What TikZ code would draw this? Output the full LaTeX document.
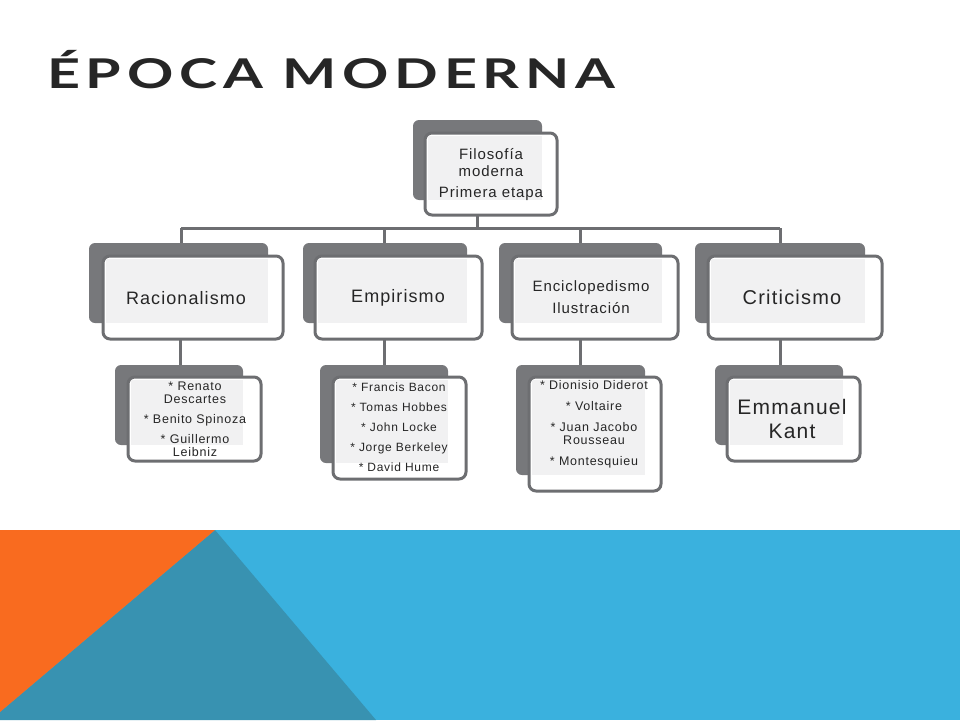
\documentclass[tikz,border=0pt]{standalone}
\usepackage{fontspec}
\setmainfont[LetterSpace=6]{Liberation Sans}
\newfontfamily\titlefont[LetterSpace=10]{Lato}
\definecolor{backg}{HTML}{77787B}
\definecolor{edge}{HTML}{6D6E71}
\definecolor{lite}{HTML}{F1F1F2}
\definecolor{txt}{HTML}{262626}
\definecolor{orng}{HTML}{F96B1F}
\definecolor{lblue}{HTML}{3AB1DE}
\definecolor{dteal}{HTML}{3892B1}
\begin{document}
\begin{tikzpicture}[x=1pt,y=-1pt,
  frontbox/.style={draw=edge,line width=3pt,rounded corners=7pt,fill=white},
  lab/.style={text=txt,align=center,inner sep=0pt},
  conn/.style={draw=edge,line width=3pt}]
\useasboundingbox (0,0) rectangle (960,720);
% background
\fill[lblue] (0,530) rectangle (960,720);
\fill[dteal] (215,530) -- (0,712) -- (0,720) -- (376,720) -- cycle;
\fill[orng] (0,530) -- (215,530) -- (0,712) -- cycle;
\node[anchor=base west,inner sep=0pt,text=txt] (title) at (47,88) {\scalebox{1.4}[1]{\titlefont\bfseries\fontsize{41}{41}\selectfont ÉPOCA MODERNA}};
\newcommand\mkbox[9]{%
  \fill[backg,rounded corners=6pt] (#2,#3) rectangle (#4,#5);
  \draw[frontbox] (#6,#7) rectangle (#8,#9);
  \fill[lite] ({#6+3},{#7+3}) rectangle (#4,#5);
  \coordinate (#1) at ({(#6+#8)/2},{(#7+#9)/2});
  \coordinate (#1-t) at ({(#6+#8)/2},#7);
  \coordinate (#1-b) at ({(#6+#8)/2},#9);}
\mkbox{top}{413}{120}{542}{200}{425}{133}{557}{215}
\mkbox{rac}{89}{243}{268}{323}{103}{256}{283}{339}
\mkbox{emp}{303}{243}{467}{323}{315}{256}{482}{339}
\mkbox{enc}{499}{243}{662}{323}{512}{256}{678}{339}
\mkbox{cri}{695}{243}{865}{323}{708}{256}{882}{339}
\mkbox{racc}{115}{365}{243}{445}{128}{377}{261}{461}
\mkbox{empc}{320}{365}{448}{463}{333}{377}{466}{479}
\mkbox{encc}{516}{365}{645}{475}{529}{377}{661}{491}
\mkbox{cric}{715}{365}{843}{445}{727}{377}{860}{461}
\coordinate (bus) at (477,228);
\coordinate (busl) at (181,228);
\coordinate (busr) at (780,228);
\draw[conn] (top-b -| bus) -- (bus);
\draw[conn] (busl) -- (busr);
\draw[conn] (busl) -- (busl |- 0,243);
\draw[conn] (384,228) -- (384,243);
\draw[conn] (580,228) -- (580,243);
\draw[conn] (busr) -- (busr |- 0,243);
\draw[conn] (180,339) -- (180,365);
\draw[conn] (384,339) -- (384,365);
\draw[conn] (580,339) -- (580,365);
\draw[conn] (780,339) -- (780,365);
% labels
\node[lab,font=\fontsize{15}{17}\selectfont] (ltop) at (491,175) {Filosofía\\moderna\\[4pt]Primera etapa};
\node[lab,font=\fontsize{18}{20}\selectfont] (lrac) at (186,298) {Racionalismo};
\node[lab,font=\fontsize{18}{20}\selectfont] (lemp) at (398,298) {Empirismo};
\node[lab,font=\fontsize{15}{18}\selectfont] (lenc) at (591,297) {Enciclopedismo\\[4pt]Ilustración};
\node[lab,font=\fontsize{20}{22}\selectfont] (lcri) at (792,297) {Criticismo};
\node[lab,font=\fontsize{12.5}{13}\selectfont] (lracc) at (195,419) {* Renato\\Descartes\\[7pt]* Benito Spinoza\\[7pt]* Guillermo\\Leibniz};
\node[lab,font=\fontsize{12}{13}\selectfont] (lempc) at (399,427) {* Francis Bacon\\[7pt]* Tomas Hobbes\\[7pt]* John Locke\\[7pt]* Jorge Berkeley\\[7pt]* David Hume};
\node[lab,font=\fontsize{12.5}{13}\selectfont] (lencc) at (594,424) {* Dionisio Diderot\\[8pt]* Voltaire\\[8pt]* Juan Jacobo\\Rousseau\\[8pt]* Montesquieu};
\node[lab,font=\fontsize{21}{24}\selectfont] (lcric) at (792,419) {Emmanuel\\Kant};
\end{tikzpicture}
\end{document}
